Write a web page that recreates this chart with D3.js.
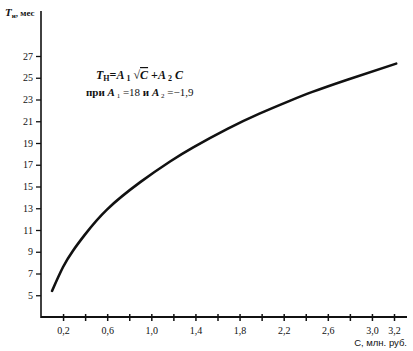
<!DOCTYPE html>
<html>
<head>
<meta charset="utf-8">
<script src="https://cdn.jsdelivr.net/npm/d3@7"></script>
<style>
  body { margin: 0; background: #fff; }
  svg text { font-family: "Liberation Serif", "DejaVu Serif", serif; fill: #111; }
</style>
</head>
<body>
<div id="chart"></div>
<script>
// Значения: затраты C (млн. руб.) и срок T (мес)
const costValues = [0.1, 0.2, 0.29, 0.4, 0.6, 0.9, 1.17, 1.38, 1.69, 1.98, 2.26, 2.46, 2.77, 3.22];
const termValues = [5.4, 7.6, 9.1, 10.6, 12.9, 15.4, 17.3, 18.6, 20.3, 21.7, 22.9, 23.7, 24.8, 26.3];

// Подписи осей
const xTicks = [0.2, 0.4, 0.6, 0.8, 1.0, 1.2, 1.4, 1.6, 1.8, 2.0, 2.2, 2.4, 2.6, 2.8, 3.0, 3.2];
const xLabeled = [0.2, 0.6, 1.0, 1.4, 1.8, 2.2, 2.6, 3.0, 3.2];
const yTicks = [5, 7, 9, 11, 13, 15, 17, 19, 21, 23, 25, 27];

const width = 413, height = 351;

const svg = d3.select('#chart')
  .append('svg')
  .attr('width', width)
  .attr('height', height);

// Шкалы
const x = d3.scaleLinear().domain([0, 3.2]).range([41, 394]);
const y = d3.scaleLinear().domain([3, 27]).range([317, 56]);

const fmt = d => d.toFixed(1).replace('.', ',');

// Ось X
const xAxis = svg.append('g')
  .attr('transform', `translate(0,${y(3)})`)
  .call(d3.axisBottom(x).tickValues(xTicks).tickSize(4).tickPadding(6)
    .tickFormat(d => xLabeled.some(v => Math.abs(v - d) < 1e-6) ? fmt(d) : ''));
xAxis.select('.domain').remove();
xAxis.selectAll('.tick line').attr('y1', -3).attr('stroke', '#111').attr('stroke-width', 1.5);
xAxis.selectAll('.tick text').style('font-size', '10px').style('font-family', '"Liberation Serif", serif');
svg.append('line')
  .attr('x1', x(0)).attr('x2', 407)
  .attr('y1', y(3)).attr('y2', y(3))
  .attr('stroke', '#111').attr('stroke-width', 2);

// Ось Y
const yAxis = svg.append('g')
  .attr('transform', `translate(${x(0)},0)`)
  .call(d3.axisLeft(y).tickValues(yTicks).tickSize(5).tickPadding(3).tickFormat(d3.format('d')));
yAxis.select('.domain').remove();
yAxis.selectAll('.tick line').attr('stroke', '#111').attr('stroke-width', 1.3);
yAxis.selectAll('.tick text').style('font-size', '10px').style('font-family', '"Liberation Serif", serif');
svg.append('line')
  .attr('x1', x(0)).attr('x2', x(0))
  .attr('y1', 11).attr('y2', y(3) + 1)
  .attr('stroke', '#111').attr('stroke-width', 1.6);

// Кривая
const pts = costValues.map((c, i) => [c, termValues[i]]);
svg.append('path')
  .datum(pts)
  .attr('fill', 'none')
  .attr('stroke', '#111')
  .attr('stroke-width', 2.6)
  .attr('stroke-linecap', 'round')
  .attr('d', d3.line().x(d => x(d[0])).y(d => y(d[1])).curve(d3.curveNatural));

// Подпись оси Y
const yt = svg.append('text').attr('x', 5).attr('y', 16).style('font-size', '11px').style('font-weight', 'bold');
yt.append('tspan').style('font-style', 'italic').text('T');
yt.append('tspan').attr('dy', 2).style('font-size', '7px').text('н');
yt.append('tspan').attr('dy', -2).style('font-size', '9px').text(', мес');

// Подпись оси X
svg.append('text')
  .attr('x', 407).attr('y', 346)
  .attr('text-anchor', 'end')
  .style('font-size', '9.5px')
  .style('font-family', '"Liberation Sans", sans-serif')
  .text('С, млн. руб.');

// Формула
const f1 = svg.append('text').attr('x', 96).attr('y', 79).style('font-size', '12px').style('font-weight', 'bold');
f1.append('tspan').style('font-style', 'italic').text('T');
f1.append('tspan').attr('dy', 2).style('font-size', '8px').text('Н');
f1.append('tspan').attr('dy', -2).text('=');
f1.append('tspan').style('font-style', 'italic').text('A');
f1.append('tspan').attr('dy', 2).style('font-size', '8px').text(' 1');
f1.append('tspan').attr('dy', -2).text(' √');
f1.append('tspan').style('font-style', 'italic').style('text-decoration', 'overline').text('C');
f1.append('tspan').text(' +');
f1.append('tspan').style('font-style', 'italic').text('A');
f1.append('tspan').attr('dy', 2).style('font-size', '8px').text(' 2');
f1.append('tspan').attr('dy', -2).style('font-style', 'italic').text(' C');

const f2 = svg.append('text').attr('x', 86).attr('y', 96).style('font-size', '11px');
f2.append('tspan').style('font-weight', 'bold').text('при ');
f2.append('tspan').style('font-style', 'italic').style('font-weight', 'bold').text('A');
f2.append('tspan').attr('dy', 2).style('font-size', '7px').text(' 1');
f2.append('tspan').attr('dy', -2).text(' =18 ');
f2.append('tspan').style('font-weight', 'bold').text('и ');
f2.append('tspan').style('font-style', 'italic').style('font-weight', 'bold').text('A');
f2.append('tspan').attr('dy', 2).style('font-size', '7px').text(' 2');
f2.append('tspan').attr('dy', -2).text(' =−1,9');
</script>
</body>
</html>
